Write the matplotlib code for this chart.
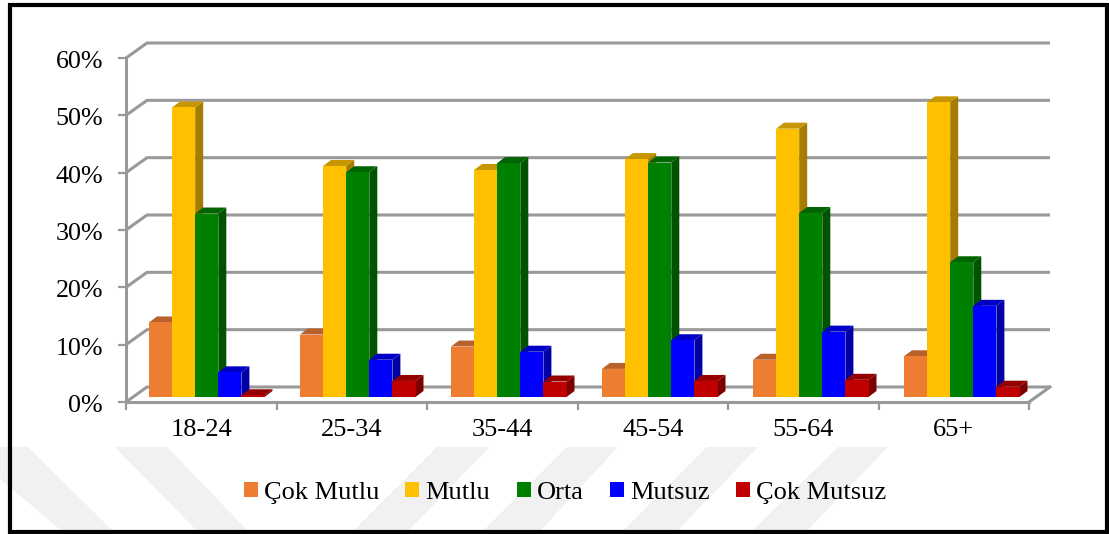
import matplotlib
matplotlib.use('Agg')
import matplotlib.pyplot as plt
from matplotlib.patches import Patch, Polygon, Rectangle
from matplotlib.transforms import ScaledTranslation

plt.rcParams['font.family'] = ['Liberation Serif', 'DejaVu Serif']

W, H = 1109, 534

age_groups = ['18-24', '25-34', '35-44', '45-54', '55-64', '65+']
cok_mutlu = [13.0, 10.9, 8.8, 4.9, 6.5, 7.1]
mutlu = [50.5, 40.3, 39.6, 41.5, 46.8, 51.4]
orta = [32.0, 39.2, 40.8, 40.9, 32.1, 23.5]
mutsuz = [4.3, 6.5, 7.9, 9.9, 11.4, 15.9]
cok_mutsuz = [0.3, 2.8, 2.7, 2.8, 3.0, 1.8]
y_ticks = [0, 10, 20, 30, 40, 50, 60]

series = [
    ('Çok Mutlu', cok_mutlu, '#ED7D31', '#B9612A', '#9A5120'),
    ('Mutlu', mutlu, '#FFC000', '#C69500', '#A67C00'),
    ('Orta', orta, '#008000', '#006400', '#005300'),
    ('Mutsuz', mutsuz, '#0000FF', '#0000C6', '#0000A6'),
    ('Çok Mutsuz', cok_mutsuz, '#C00000', '#950000', '#7D0000'),
]


def px(x, y):
    return x / W, 1 - y / H


def fig_poly(points, **kw):
    fig.add_artist(Polygon([px(*p) for p in points], closed=True, transform=fig.transFigure, **kw))


fig = plt.figure(figsize=(W / 100, H / 100), dpi=100, facecolor='white')

# faint watermark stripes at the bottom of the page
for top_l, top_r, bot_l, bot_r in [(-38, 28, 62, 113), (115, 167, 197, 248),
                                   (437, 490, 353, 408), (567, 618, 483, 540),
                                   (707, 758, 623, 677), (838, 888, 752, 807)]:
    fig_poly([(top_l, 447), (top_r, 447), (bot_r, 531), (bot_l, 531)],
             facecolor='#F1F1F1', edgecolor='none', zorder=0)

# black frame
fig.add_artist(Rectangle(px(10, 532), 1097 / W, 527 / H, transform=fig.transFigure,
                         facecolor='none', edgecolor='black', linewidth=3, zorder=5))

left, right, top, bottom = 126, 1029, 58, 402
ax = fig.add_axes([left / W, 1 - bottom / H, (right - left) / W, (bottom - top) / H])
ax.patch.set_alpha(0)
ax.set_xlim(0, 6)
ax.set_ylim(0, 60)

x_per_px = 6 / (right - left)
y_per_px = 60 / (bottom - top)
wall_dx = 21 * x_per_px
wall_dy = 15 * y_per_px
grey = '#999999'

# back wall gridlines and floor
for t in y_ticks:
    ax.plot([0, wall_dx, 6 + wall_dx], [t, t + wall_dy, t + wall_dy],
            color=grey, lw=2.2, clip_on=False, zorder=1, solid_capstyle='butt')
ax.plot([6, 6 + wall_dx], [0, wall_dy], color=grey, lw=2.2, clip_on=False, zorder=1)

# bars, with a fake 3d top and side
bar_w = 23.1 * x_per_px
offset = 23 * x_per_px
step = 151 * x_per_px
base = 5 * y_per_px
dx = 8 * x_per_px
dy = 6 * y_per_px
z = 2
for i in range(len(age_groups)):
    for j, (name, vals, front, top_c, side_c) in enumerate(series):
        x0 = i * step + offset + j * bar_w
        x1 = x0 + bar_w
        y1 = base + vals[i]
        ax.add_patch(Polygon([(x1, base), (x1 + dx, base + dy), (x1 + dx, y1 + dy), (x1, y1)],
                             facecolor=side_c, edgecolor='none', zorder=z, clip_on=False))
        ax.add_patch(Polygon([(x0, y1), (x0 + dx, y1 + dy), (x1 + dx, y1 + dy), (x1, y1)],
                             facecolor=top_c, edgecolor='none', zorder=z, clip_on=False))
        ax.bar(x0, vals[i], bar_w, bottom=base, align='edge', color=front, zorder=z)
        z += 1

for s in ['top', 'right']:
    ax.spines[s].set_visible(False)
for s in ['left', 'bottom']:
    ax.spines[s].set_color(grey)
    ax.spines[s].set_linewidth(2.2)

ax.set_yticks(y_ticks)
ax.set_yticklabels([f'{t}%' for t in y_ticks], fontsize=18.7, color='black')
ax.tick_params(axis='y', length=5.5, width=1.6, color=grey, pad=11)
shift = ScaledTranslation(0, -1.2 / 72, fig.dpi_scale_trans)
for label in ax.get_yticklabels():
    label.set_transform(label.get_transform() + shift)
ax.set_xticks(range(7))
ax.set_xticklabels([])
ax.tick_params(axis='x', which='major', length=5.5, width=1.6, color=grey)
ax.set_xticks([i + 0.5 for i in range(6)], minor=True)
ax.set_xticklabels(age_groups, minor=True, fontsize=19, color='black')
ax.tick_params(axis='x', which='minor', length=0, pad=12.5)

handles = [Patch(facecolor=s[2], edgecolor='none', label=s[0]) for s in series]
fig.legend(handles=handles, loc='center', bbox_to_anchor=px(565, 493), ncol=5, frameon=False,
           fontsize=19, handlelength=0.53, handleheight=0.53, handletextpad=0.23,
           columnspacing=1.0, borderpad=0, borderaxespad=0)

fig.savefig('out.png', dpi=100)
